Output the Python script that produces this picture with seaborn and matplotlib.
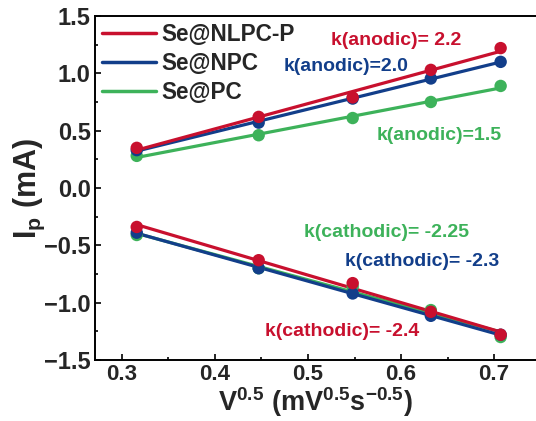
import matplotlib
matplotlib.use("Agg")
import matplotlib.pyplot as plt
import numpy as np
import pandas as pd
import seaborn as sns
from matplotlib.lines import Line2D
from matplotlib.ticker import MultipleLocator

# square root of scan rate
v_sqrt = [0.316, 0.447, 0.548, 0.632, 0.707]

samples = ["Se@NLPC-P", "Se@NPC", "Se@PC"]
colors = ["#C8102E", "#123E8A", "#3DB25A"]

# peak currents (mA)
anodic = {
    "Se@NLPC-P": [0.35, 0.62, 0.79, 1.03, 1.22],
    "Se@NPC": [0.33, 0.57, 0.78, 0.955, 1.10],
    "Se@PC": [0.28, 0.46, 0.61, 0.75, 0.89],
}
cathodic = {
    "Se@NLPC-P": [-0.34, -0.63, -0.83, -1.08, -1.28],
    "Se@NPC": [-0.39, -0.70, -0.92, -1.115, -1.28],
    "Se@PC": [-0.41, -0.70, -0.86, -1.065, -1.30],
}

anodic_labels = ["k(anodic)= 2.2", "k(anodic)=2.0", "k(anodic)=1.5"]
cathodic_labels = ["k(cathodic)= -2.4", "k(cathodic)= -2.3", "k(cathodic)= -2.25"]
anodic_pos = [(0.595, 1.29), (0.541, 1.06), (0.641, 0.46)]
cathodic_pos = [(0.537, -1.25), (0.623, -0.64), (0.584, -0.39)]

sns.set_style("ticks")
plt.rcParams["font.family"] = ["Liberation Sans", "DejaVu Sans"]
plt.rcParams["font.weight"] = "bold"
plt.rcParams["mathtext.fontset"] = "custom"
plt.rcParams["mathtext.rm"] = "Liberation Sans:bold"
plt.rcParams["mathtext.it"] = "Liberation Sans:bold"
plt.rcParams["mathtext.bf"] = "Liberation Sans:bold"

fig = plt.figure(figsize=(5.36, 4.21), dpi=100)
ax = fig.add_axes([0.177, 0.145, 0.823, 0.817])

# draw order: green, blue, red so red sits on top
for name, c in reversed(list(zip(samples, colors))):
    for data in (anodic, cathodic):
        df = pd.DataFrame({"x": v_sqrt, "y": data[name]})
        sns.regplot(
            data=df, x="x", y="y", ax=ax, ci=None, color=c,
            scatter_kws={"s": 80, "alpha": 1, "edgecolor": "none", "zorder": 3},
            line_kws={"lw": 2.3, "zorder": 2},
        )

for (label, (x, y)), c in zip(zip(anodic_labels, anodic_pos), colors):
    ax.text(x, y, label, color=c, fontsize=14, fontweight="bold",
            ha="center", va="center")
for (label, (x, y)), c in zip(zip(cathodic_labels, cathodic_pos), colors):
    ax.text(x, y, label, color=c, fontsize=14, fontweight="bold",
            ha="center", va="center")

handles = [Line2D([0], [0], color=c, lw=2.5) for c in colors]
ax.legend(handles, samples, loc="upper left", frameon=False,
          prop={"size": 16.3, "weight": "bold"}, handlelength=2.4,
          handletextpad=0.25, labelspacing=0.27, borderaxespad=0.1,
          borderpad=0.2, bbox_to_anchor=(0.0, 1.0))

ax.set_xlim(0.271, 0.745)
ax.set_ylim(-1.5, 1.5)
ax.xaxis.set_major_locator(MultipleLocator(0.1))
ax.xaxis.set_minor_locator(MultipleLocator(0.05))
ax.yaxis.set_major_locator(MultipleLocator(0.5))
ax.yaxis.set_minor_locator(MultipleLocator(0.25))
ax.tick_params(which="both", direction="in", width=1.4)
ax.tick_params(axis="y", labelsize=17)
ax.tick_params(axis="x", labelsize=16)
ax.tick_params(which="major", length=4, pad=3)
ax.tick_params(which="minor", length=2)
ax.set_yticklabels([f"{t:.1f}".replace("-", "\u2212") for t in ax.get_yticks()])
ax.set_xticklabels([f"{t:.1f}" for t in ax.get_xticks()])
for lbl in ax.get_xticklabels() + ax.get_yticklabels():
    lbl.set_fontweight("bold")

for side in ["left", "bottom", "top"]:
    ax.spines[side].set_linewidth(1.4)
    ax.spines[side].set_color("black")
ax.spines["right"].set_visible(False)

ax.set_xlabel(r"V$^{0.5}$ (mV$^{0.5}$s$^{-0.5}$)", fontsize=19.5, fontweight="bold",
              labelpad=0)
ax.set_ylabel(r"I$_{\rm p}$ (mA)", fontsize=22, fontweight="bold", labelpad=-2)

fig.savefig("out.png", dpi=100)
